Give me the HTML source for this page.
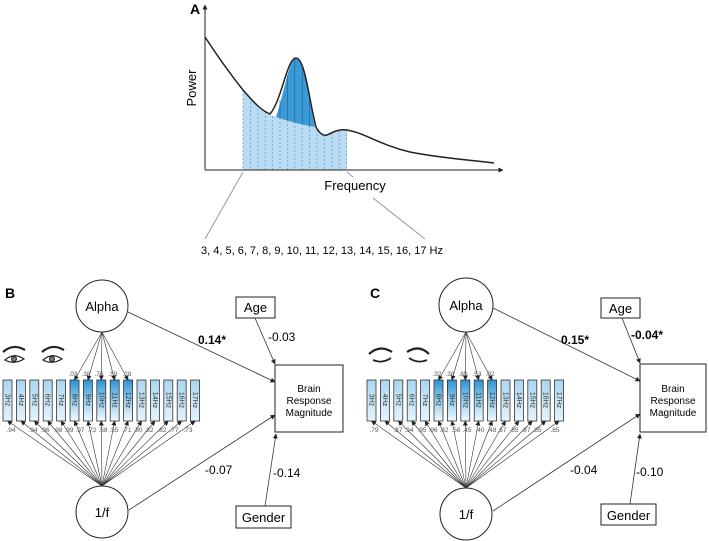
<!DOCTYPE html><html><head><style>body{margin:0;background:#fff}svg{display:block}text{font-family:"Liberation Sans",sans-serif}</style></head><body>
<svg width="709" height="541" viewBox="0 0 709 541" xmlns="http://www.w3.org/2000/svg">
<defs>
<linearGradient id="gl" x1="0" y1="0" x2="0" y2="1"><stop offset="0" stop-color="#a9d6f0"/><stop offset="1" stop-color="#e6f3fb"/></linearGradient>
<linearGradient id="gd" x1="0" y1="0" x2="0" y2="1"><stop offset="0" stop-color="#2b93d2"/><stop offset="0.45" stop-color="#8cc8ec"/><stop offset="1" stop-color="#f2f9fd"/></linearGradient>
<marker id="a" markerWidth="5" markerHeight="5" refX="4.5" refY="2.5" orient="auto" markerUnits="userSpaceOnUse"><path d="M0,0L5,2.5L0,5z" fill="#222"/></marker>
<g id="box"><rect width="9" height="41" fill="url(#gl)" stroke="#333" stroke-width="0.8"/></g>
<g id="boxd"><rect width="9" height="41" fill="url(#gd)" stroke="#333" stroke-width="0.8"/></g>
</defs>
<!-- Panel A -->
<text x="190" y="14" font-size="14" font-weight="bold">A</text>
<path d="M243,170 L243,90 C252,100 260,110 268,114 L276,117 Q296,124 315,127 C318,132 322,135 326,135 C335,132 340,130 347,130 L347,170 Z" fill="#b9dcf2"/>
<path d="M276,117 C284,95 289,58 296,58 C304,58 309,100 315,127 Q296,124 276,117Z" fill="#3a9ad6"/>
<g stroke="#5a9fcf" stroke-width="0.7" stroke-dasharray="2,2">
<line x1="243" y1="90" x2="243" y2="170"/><line x1="250.4" y1="98" x2="250.4" y2="170"/><line x1="257.8" y1="105" x2="257.8" y2="170"/><line x1="265.2" y1="112" x2="265.2" y2="170"/><line x1="272.6" y1="116" x2="272.6" y2="170"/><line x1="280" y1="118" x2="280" y2="170"/><line x1="287.4" y1="120" x2="287.4" y2="170"/><line x1="294.8" y1="122" x2="294.8" y2="170"/><line x1="302.2" y1="124" x2="302.2" y2="170"/><line x1="309.6" y1="126" x2="309.6" y2="170"/><line x1="317" y1="130" x2="317" y2="170"/><line x1="324.4" y1="135" x2="324.4" y2="170"/><line x1="331.8" y1="133" x2="331.8" y2="170"/><line x1="339.2" y1="131" x2="339.2" y2="170"/><line x1="346.6" y1="130" x2="346.6" y2="170"/>
</g>
<g stroke="#1f5f8f" stroke-width="0.6"><line x1="280" y1="100" x2="280" y2="118"/><line x1="287.4" y1="75" x2="287.4" y2="120"/><line x1="294.8" y1="59" x2="294.8" y2="122"/><line x1="302.2" y1="66" x2="302.2" y2="124"/><line x1="309.6" y1="98" x2="309.6" y2="126"/></g>
<path d="M205,37 C220,60 235,80 243,90 C252,100 260,110 270,114 C282,100 287,58 296,58 C305,58 309,100 316,127 C320,134 323,136 327,135 C335,131 340,129 347,130 C365,133 380,145 410,152 C440,158 470,160 494,163" fill="none" stroke="#222" stroke-width="1.5"/>
<line x1="205" y1="170" x2="205" y2="5" stroke="#222" stroke-width="1" marker-end="url(#a)"/>
<line x1="205" y1="170" x2="503" y2="170" stroke="#222" stroke-width="1" marker-end="url(#a)"/>
<text x="196" y="88" font-size="13" transform="rotate(-90 196 88)" text-anchor="middle">Power</text>
<line x1="243" y1="172" x2="205" y2="239" stroke="#999" stroke-width="1"/>
<line x1="347" y1="172" x2="353" y2="177" stroke="#999" stroke-width="1"/>
<line x1="373" y1="198" x2="425" y2="239" stroke="#999" stroke-width="1"/>
<text x="355" y="190" font-size="13" text-anchor="middle">Frequency</text>
<text x="322" y="254" font-size="11" text-anchor="middle">3, 4, 5, 6, 7, 8, 9, 10, 11, 12, 13, 14, 15, 16, 17 Hz</text>

<!-- Panel B -->
<text x="5" y="298" font-size="14" font-weight="bold">B</text>
<g fill="none" stroke="#222" stroke-width="1">
<circle cx="102" cy="306" r="26"/><circle cx="102" cy="512" r="26"/>
<rect x="236" y="297" width="39" height="21"/><rect x="236" y="506" width="55" height="22"/><rect x="275" y="365" width="68" height="67"/>
</g>
<text x="102" y="311" font-size="13" text-anchor="middle">Alpha</text>
<text x="102" y="517" font-size="13" text-anchor="middle">1/f</text>
<text x="255.5" y="312" font-size="13" text-anchor="middle">Age</text>
<text x="263.5" y="522" font-size="13" text-anchor="middle">Gender</text>
<text x="309" y="392" font-size="10" text-anchor="middle">Brain</text><text x="309" y="404" font-size="10" text-anchor="middle">Response</text><text x="309" y="416" font-size="10" text-anchor="middle">Magnitude</text>
<g stroke="#333" stroke-width="0.8" fill="none">
<line x1="128" y1="312" x2="275" y2="382" marker-end="url(#a)"/>
<line x1="255" y1="318" x2="275" y2="364" marker-end="url(#a)"/>
<line x1="129" y1="510" x2="275" y2="415" marker-end="url(#a)"/>
<line x1="265" y1="506" x2="276" y2="434" marker-end="url(#a)"/>
</g>
<text x="198" y="344" font-size="12" font-weight="bold">0.14*</text>
<text x="268" y="341" font-size="12">-0.03</text>
<text x="205" y="474" font-size="12">-0.07</text>
<text x="273" y="477" font-size="12">-0.14</text>
<!-- eyes B -->
<g stroke="#222" fill="none">
<path d="M3,352 Q13,343 25,350" stroke-width="2.2"/><path d="M5,360 Q14,352 24,359 Q14,365 5,360Z" stroke-width="1.2"/><circle cx="14" cy="359" r="2.5" fill="#777"/>
<path d="M42,352 Q52,343 64,350" stroke-width="2.2"/><path d="M43,360 Q52,352 62,359 Q52,365 43,360Z" stroke-width="1.2"/><circle cx="52" cy="359" r="2.5" fill="#777"/>
</g>
<!-- boxes B -->
<use href="#box" x="3" y="380"/><use href="#box" x="16.4" y="380"/><use href="#box" x="29.8" y="380"/><use href="#box" x="43.2" y="380"/><use href="#box" x="56.6" y="380"/><use href="#boxd" x="70" y="380"/><use href="#boxd" x="83.4" y="380"/><use href="#boxd" x="96.8" y="380"/><use href="#boxd" x="110.2" y="380"/><use href="#boxd" x="123.6" y="380"/><use href="#box" x="137" y="380"/><use href="#box" x="150.4" y="380"/><use href="#box" x="163.8" y="380"/><use href="#box" x="177.2" y="380"/><use href="#box" x="190.6" y="380"/>
<g font-size="7" fill="#333" text-anchor="middle">
<text transform="translate(5.5,400) rotate(90)">3Hz</text><text transform="translate(18.9,400) rotate(90)">4Hz</text><text transform="translate(32.3,400) rotate(90)">5Hz</text><text transform="translate(45.7,400) rotate(90)">6Hz</text><text transform="translate(59.1,400) rotate(90)">7Hz</text><text transform="translate(72.5,400) rotate(90)">8Hz</text><text transform="translate(85.9,400) rotate(90)">9Hz</text><text transform="translate(99.3,400) rotate(90)">10Hz</text><text transform="translate(112.7,400) rotate(90)">11Hz</text><text transform="translate(126.1,400) rotate(90)">12Hz</text><text transform="translate(139.5,400) rotate(90)">13Hz</text><text transform="translate(152.9,400) rotate(90)">14Hz</text><text transform="translate(166.3,400) rotate(90)">15Hz</text><text transform="translate(179.7,400) rotate(90)">16Hz</text><text transform="translate(193.1,400) rotate(90)">17Hz</text>
</g>
<g stroke="#333" stroke-width="0.6">
<line x1="102" y1="332" x2="74.5" y2="380" marker-end="url(#a)"/><line x1="102" y1="332" x2="87.9" y2="380" marker-end="url(#a)"/><line x1="102" y1="332" x2="101.3" y2="380" marker-end="url(#a)"/><line x1="102" y1="332" x2="114.7" y2="380" marker-end="url(#a)"/><line x1="102" y1="332" x2="128.1" y2="380" marker-end="url(#a)"/>
<line x1="102" y1="486" x2="7.5" y2="421" marker-end="url(#a)"/><line x1="102" y1="486" x2="20.9" y2="421" marker-end="url(#a)"/><line x1="102" y1="486" x2="34.3" y2="421" marker-end="url(#a)"/><line x1="102" y1="486" x2="47.7" y2="421" marker-end="url(#a)"/><line x1="102" y1="486" x2="61.1" y2="421" marker-end="url(#a)"/><line x1="102" y1="486" x2="74.5" y2="421" marker-end="url(#a)"/><line x1="102" y1="486" x2="87.9" y2="421" marker-end="url(#a)"/><line x1="102" y1="486" x2="101.3" y2="421" marker-end="url(#a)"/><line x1="102" y1="486" x2="114.7" y2="421" marker-end="url(#a)"/><line x1="102" y1="486" x2="128.1" y2="421" marker-end="url(#a)"/><line x1="102" y1="486" x2="141.5" y2="421" marker-end="url(#a)"/><line x1="102" y1="486" x2="154.9" y2="421" marker-end="url(#a)"/><line x1="102" y1="486" x2="168.3" y2="421" marker-end="url(#a)"/><line x1="102" y1="486" x2="181.7" y2="421" marker-end="url(#a)"/><line x1="102" y1="486" x2="195.1" y2="421" marker-end="url(#a)"/>
</g>
<g font-size="6.5" fill="#555" text-anchor="middle">
<text x="73" y="376">.03</text><text x="86" y="376">.38</text><text x="99" y="376">.76</text><text x="113" y="376">.59</text><text x="127" y="376">.28</text>
<text x="11" y="432">.94</text><text x="33" y="432">.94</text><text x="45" y="432">.96</text><text x="58" y="432">.98</text><text x="69" y="432">.99</text><text x="80" y="432">.97</text><text x="92" y="432">.72</text><text x="103" y="432">.58</text><text x="114" y="432">.55</text><text x="127" y="432">.71</text><text x="138" y="432">.80</text><text x="149" y="432">.82</text><text x="162" y="432">.82</text><text x="174" y="432">.77</text><text x="188" y="432">.73</text>
</g>

<!-- Panel C -->
<text x="370" y="298" font-size="14" font-weight="bold">C</text>
<g fill="none" stroke="#222" stroke-width="1">
<circle cx="466" cy="305" r="27"/><circle cx="466" cy="514" r="26"/>
<rect x="601" y="298" width="39" height="20"/><rect x="601" y="504" width="55" height="21"/><rect x="640" y="364" width="66" height="68"/>
</g>
<text x="466" y="310" font-size="13" text-anchor="middle">Alpha</text>
<text x="466" y="519" font-size="13" text-anchor="middle">1/f</text>
<text x="620.5" y="313" font-size="13" text-anchor="middle">Age</text>
<text x="628.5" y="520" font-size="13" text-anchor="middle">Gender</text>
<text x="673" y="392" font-size="10" text-anchor="middle">Brain</text><text x="673" y="404" font-size="10" text-anchor="middle">Response</text><text x="673" y="416" font-size="10" text-anchor="middle">Magnitude</text>
<g stroke="#333" stroke-width="0.8" fill="none">
<line x1="493" y1="308" x2="640" y2="381" marker-end="url(#a)"/>
<line x1="622" y1="318" x2="640" y2="363" marker-end="url(#a)"/>
<line x1="493" y1="511" x2="640" y2="414" marker-end="url(#a)"/>
<line x1="630" y1="504" x2="640" y2="434" marker-end="url(#a)"/>
</g>
<text x="561" y="344" font-size="12" font-weight="bold">0.15*</text>
<text x="631" y="339" font-size="12" font-weight="bold">-0.04*</text>
<text x="570" y="474" font-size="12">-0.04</text>
<text x="636" y="476" font-size="12">-0.10</text>
<g stroke="#222" fill="none" stroke-width="2.2">
<path d="M369,354 Q380,344 392,352"/><path d="M373,360 Q382,364 391,358" stroke-width="1.8"/>
<path d="M407,352 Q419,344 429,354"/><path d="M409,358 Q418,364 427,360" stroke-width="1.8"/>
</g>
<use href="#box" x="367" y="380"/><use href="#box" x="380.4" y="380"/><use href="#box" x="393.8" y="380"/><use href="#box" x="407.2" y="380"/><use href="#box" x="420.6" y="380"/><use href="#boxd" x="434" y="380"/><use href="#boxd" x="447.4" y="380"/><use href="#boxd" x="460.8" y="380"/><use href="#boxd" x="474.2" y="380"/><use href="#boxd" x="487.6" y="380"/><use href="#box" x="501" y="380"/><use href="#box" x="514.4" y="380"/><use href="#box" x="527.8" y="380"/><use href="#box" x="541.2" y="380"/><use href="#box" x="554.6" y="380"/>
<g font-size="7" fill="#333" text-anchor="middle">
<text transform="translate(369.5,400) rotate(90)">3Hz</text><text transform="translate(382.9,400) rotate(90)">4Hz</text><text transform="translate(396.3,400) rotate(90)">5Hz</text><text transform="translate(409.7,400) rotate(90)">6Hz</text><text transform="translate(423.1,400) rotate(90)">7Hz</text><text transform="translate(436.5,400) rotate(90)">8Hz</text><text transform="translate(449.9,400) rotate(90)">9Hz</text><text transform="translate(463.3,400) rotate(90)">10Hz</text><text transform="translate(476.7,400) rotate(90)">11Hz</text><text transform="translate(490.1,400) rotate(90)">12Hz</text><text transform="translate(503.5,400) rotate(90)">13Hz</text><text transform="translate(516.9,400) rotate(90)">14Hz</text><text transform="translate(530.3,400) rotate(90)">15Hz</text><text transform="translate(543.7,400) rotate(90)">16Hz</text><text transform="translate(557.1,400) rotate(90)">17Hz</text>
</g>
<g stroke="#333" stroke-width="0.6">
<line x1="466" y1="332" x2="438.5" y2="380" marker-end="url(#a)"/><line x1="466" y1="332" x2="451.9" y2="380" marker-end="url(#a)"/><line x1="466" y1="332" x2="465.3" y2="380" marker-end="url(#a)"/><line x1="466" y1="332" x2="478.7" y2="380" marker-end="url(#a)"/><line x1="466" y1="332" x2="492.1" y2="380" marker-end="url(#a)"/>
<line x1="466" y1="488" x2="371.5" y2="421" marker-end="url(#a)"/><line x1="466" y1="488" x2="384.9" y2="421" marker-end="url(#a)"/><line x1="466" y1="488" x2="398.3" y2="421" marker-end="url(#a)"/><line x1="466" y1="488" x2="411.7" y2="421" marker-end="url(#a)"/><line x1="466" y1="488" x2="425.1" y2="421" marker-end="url(#a)"/><line x1="466" y1="488" x2="438.5" y2="421" marker-end="url(#a)"/><line x1="466" y1="488" x2="451.9" y2="421" marker-end="url(#a)"/><line x1="466" y1="488" x2="465.3" y2="421" marker-end="url(#a)"/><line x1="466" y1="488" x2="478.7" y2="421" marker-end="url(#a)"/><line x1="466" y1="488" x2="492.1" y2="421" marker-end="url(#a)"/><line x1="466" y1="488" x2="505.5" y2="421" marker-end="url(#a)"/><line x1="466" y1="488" x2="518.9" y2="421" marker-end="url(#a)"/><line x1="466" y1="488" x2="532.3" y2="421" marker-end="url(#a)"/><line x1="466" y1="488" x2="545.7" y2="421" marker-end="url(#a)"/><line x1="466" y1="488" x2="559.1" y2="421" marker-end="url(#a)"/>
</g>
<g font-size="6.5" fill="#555" text-anchor="middle">
<text x="437" y="376">.32</text><text x="450" y="376">.38</text><text x="463" y="376">.85</text><text x="477" y="376">.53</text><text x="490" y="376">.02</text>
<text x="374" y="432">.79</text><text x="398" y="432">.87</text><text x="409" y="432">.94</text><text x="422" y="432">.95</text><text x="433" y="432">.96</text><text x="444" y="432">.82</text><text x="456" y="432">.56</text><text x="467" y="432">.45</text><text x="480" y="432">.40</text><text x="492" y="432">.48</text><text x="502" y="432">.67</text><text x="514" y="432">.85</text><text x="526" y="432">.87</text><text x="537" y="432">.85</text><text x="555" y="432">.85</text>
</g>
</svg>
</body></html>
